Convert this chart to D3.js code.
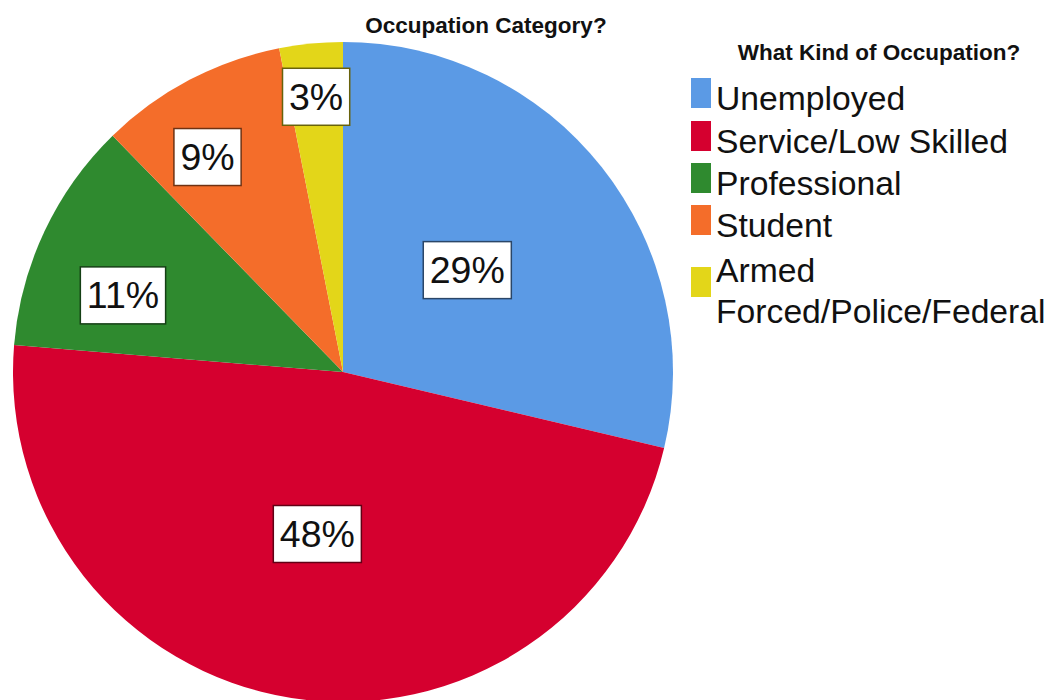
<!DOCTYPE html>
<html>
<head>
<meta charset="utf-8">
<script src="https://cdn.jsdelivr.net/npm/d3@7"></script>
<style>
  html, body { margin: 0; padding: 0; background: #fff; }
  svg { display: block; font-family: Arial, "Liberation Sans", sans-serif; }
</style>
</head>
<body>
<svg id="chart" width="1055" height="700"></svg>
<script>
// Occupation shares (percent of respondents)
const categories = ["Unemployed", "Service/Low Skilled", "Professional", "Student", "Armed Forced/Police/Federal"];
const legendLines = [["Unemployed"], ["Service/Low Skilled"], ["Professional"], ["Student"], ["Armed", "Forced/Police/Federal"]];
const shares = [28.7, 47.6, 11.4, 9.2, 3.1];
const colors = ["#5b9ae5", "#d5002f", "#2f8a2f", "#f46d2a", "#e3d619"];
// label placement: fraction of radius and angular nudge (degrees) from the slice middle
const labelRadius = [0.487, 0.497, 0.706, 0.77, 0.838];
const labelNudge = [-1, 0, -6, -4.5, 0];

const chartTitle = "Occupation Category?";
const legendTitle = "What Kind of Occupation?";

const svg = d3.select("#chart");
const cx = 343, cy = 372, R = 330;

const data = categories.map((c, i) => ({
  name: c, value: shares[i], color: colors[i], lr: labelRadius[i], nudge: labelNudge[i]
}));

const pie = d3.pie().value(d => d.value).sort(null).startAngle(0).endAngle(2 * Math.PI);
const arcs = pie(data);
const arc = d3.arc().innerRadius(0).outerRadius(R);

const g = svg.append("g").attr("transform", `translate(${cx},${cy})`);

g.selectAll("path.slice")
  .data(arcs)
  .join("path")
  .attr("class", "slice")
  .attr("d", arc)
  .attr("fill", d => d.data.color);

// percentage labels in white boxes
const labels = g.selectAll("g.lbl")
  .data(arcs)
  .join("g")
  .attr("class", "lbl")
  .attr("transform", d => {
    const a = (d.startAngle + d.endAngle) / 2 + d.data.nudge * Math.PI / 180;
    const r = R * d.data.lr;
    return `translate(${r * Math.sin(a)},${-r * Math.cos(a)})`;
  });

labels.append("text")
  .attr("text-anchor", "middle")
  .attr("y", 13)
  .attr("font-size", 37.5)
  .attr("fill", "#111")
  .text(d => Math.round(d.data.value) + "%");

labels.each(function(d) {
  const t = d3.select(this).select("text");
  const w = t.node().getComputedTextLength();
  const padX = 6.5, h = 57;
  d3.select(this).insert("rect", "text")
    .attr("x", -w / 2 - padX)
    .attr("y", -h / 2)
    .attr("width", w + 2 * padX)
    .attr("height", h)
    .attr("fill", "#fff")
    .attr("stroke", d3.color(d.data.color).darker(2.2))
    .attr("stroke-width", 1.5);
});

// chart title
svg.append("text")
  .attr("x", 486)
  .attr("y", 33)
  .attr("text-anchor", "middle")
  .attr("font-size", 22.5)
  .attr("font-weight", "bold")
  .attr("fill", "#111")
  .text(chartTitle);

// legend
const legend = svg.append("g");
legend.append("text")
  .attr("x", 879)
  .attr("y", 60)
  .attr("text-anchor", "middle")
  .attr("font-size", 22.5)
  .attr("font-weight", "bold")
  .attr("fill", "#111")
  .text(legendTitle);

const baselines = [110, 153, 195, 237, 282];

const items = legend.selectAll("g.item")
  .data(data)
  .join("g")
  .attr("class", "item")
  .attr("transform", (d, i) => `translate(0,${baselines[i]})`);

items.append("rect")
  .attr("x", 691)
  .attr("y", (d, i) => legendLines[i].length > 1 ? -15 : -32)
  .attr("width", 20)
  .attr("height", 30)
  .attr("fill", d => d.color);

items.append("text")
  .attr("x", 716)
  .attr("font-size", 33.7)
  .attr("fill", "#111")
  .selectAll("tspan")
  .data((d, i) => legendLines[i])
  .join("tspan")
  .attr("x", 716)
  .attr("dy", (d, j) => j === 0 ? 0 : 41)
  .text(d => d);
</script>
</body>
</html>
